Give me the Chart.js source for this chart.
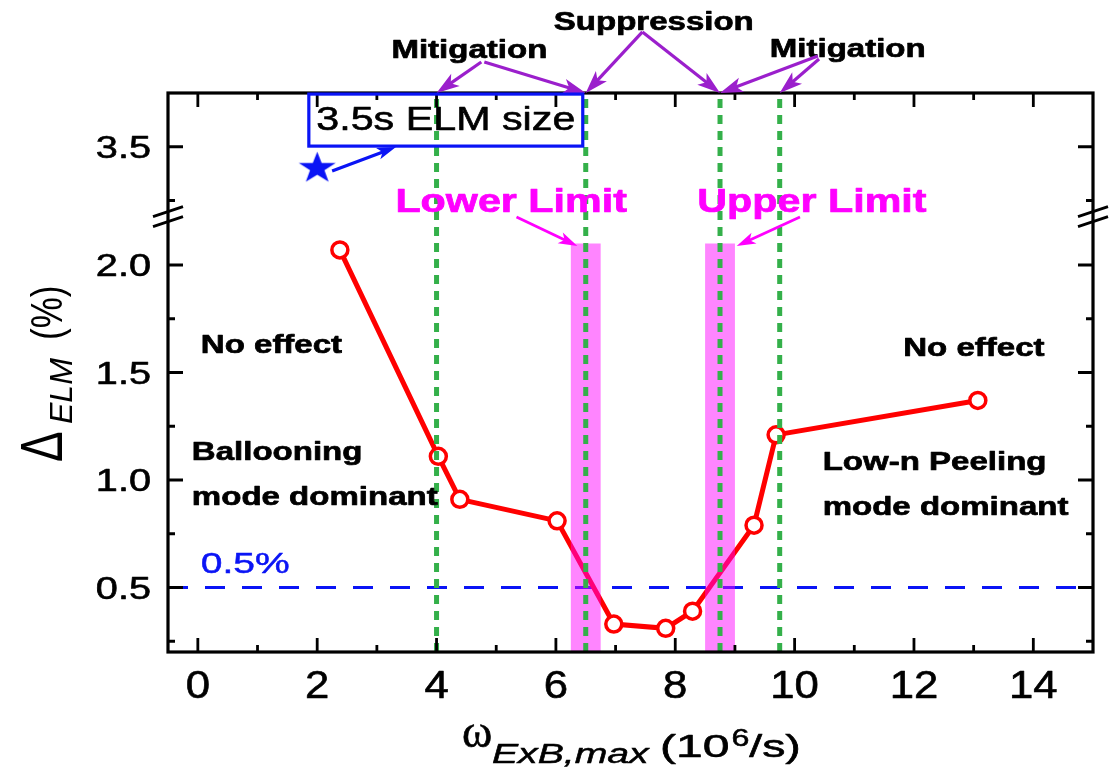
<!DOCTYPE html>
<html>
<head>
<meta charset="utf-8">
<script src="https://cdn.jsdelivr.net/npm/chart.js@4.4.0/dist/chart.umd.min.js"></script>
<style>
    html, body { margin: 0; padding: 0; background: #fff; }
    canvas { display: block; }
</style>
</head>
<body>
<canvas id="elmChart" width="1117" height="767"></canvas>
<script>
// ELM size vs. ExB shearing rate
const omegaValues = [2.38, 4.03, 4.39, 6.02, 6.97, 7.84, 8.29, 9.32, 9.69, 13.07];
const elmSizes    = [2.07, 1.11, 0.91, 0.81, 0.33, 0.31, 0.39, 0.79, 1.21, 1.37];

// 3.5s reference ELM size (star)
const refOmega = [2.0];
const refElm   = [3.40];

// green dashed boundaries: mitigation / suppression / suppression / mitigation
const boundaryLines = [4.0, 6.5, 8.75, 9.75];

// lower / upper limit bands
const limitBands = [[6.25, 6.75], [8.5, 9.0]];
const bandTop = 2.1;

const thresholdLevel = 0.5;

const xTicks      = [0, 2, 4, 6, 8, 10, 12, 14];
const xMinorTicks = [1, 3, 5, 7, 9, 11, 13];
const yTicks      = [0.5, 1.0, 1.5, 2.0, 3.5];
const yMinorTicks = [0.25, 0.75, 1.25, 1.75, 3.25];

// broken y axis: 0.2..2.2 below the break, 3.2..3.75 above it
const breakLow = 2.2;
const breakHigh = 3.2;
const breakGap = 0.05;
function toAxis(v) {
    return v > breakLow ? v - (breakHigh - breakLow) + breakGap : v;
}
const breakMid = breakLow + breakGap / 2;

// annotation placement (x in 10^6/s, y in axis units)
const purpleArrows = [
    [4.75, 2.944, 4.0, 2.8],
    [4.80, 2.944, 6.5, 2.8],
    [7.45, 3.084, 6.5, 2.8],
    [7.45, 3.084, 8.75, 2.8],
    [10.39, 2.972, 8.75, 2.8],
    [10.41, 2.958, 9.75, 2.8]
];
const limitArrows = [
    [5.34, 2.223, 6.36, 2.088],
    [10.09, 2.223, 9.03, 2.088]
];

function makeStar(r, sx, color) {
    const c = document.createElement('canvas');
    const w = Math.ceil(2 * r * sx) + 4;
    const h = Math.ceil(2 * r) + 4;
    c.width = w;
    c.height = h;
    const g = c.getContext('2d');
    g.translate(w / 2, h / 2);
    g.scale(sx, 1);
    g.beginPath();
    for (let i = 0; i < 10; i++) {
        const rad = i % 2 === 0 ? r : r * 0.39;
        const a = -Math.PI / 2 + i * Math.PI / 5;
        g.lineTo(Math.cos(a) * rad, Math.sin(a) * rad);
    }
    g.closePath();
    g.fillStyle = color;
    g.fill();
    return c;
}

function stretchText(ctx, str, x, y, font, color, align, sx, heavy) {
    ctx.save();
    ctx.font = font;
    ctx.fillStyle = color;
    ctx.strokeStyle = color;
    ctx.textBaseline = 'alphabetic';
    ctx.textAlign = 'left';
    const w = ctx.measureText(str).width * sx;
    let x0 = x;
    if (align === 'center') x0 = x - w / 2;
    else if (align === 'right') x0 = x - w;
    ctx.translate(x0, y);
    ctx.scale(sx, 1);
    ctx.fillText(str, 0, 0);
    if (heavy) {
        ctx.lineWidth = heavy;
        ctx.lineJoin = 'round';
        ctx.strokeText(str, 0, 0);
    }
    ctx.restore();
    return w;
}

function arrow(ctx, x1, y1, x2, y2, color, width, headLen, headW) {
    const ang = Math.atan2(y2 - y1, x2 - x1);
    ctx.save();
    ctx.strokeStyle = color;
    ctx.fillStyle = color;
    ctx.lineWidth = width;
    ctx.setLineDash([]);
    ctx.beginPath();
    ctx.moveTo(x1, y1);
    ctx.lineTo(x2 - Math.cos(ang) * headLen * 0.7, y2 - Math.sin(ang) * headLen * 0.7);
    ctx.stroke();
    ctx.translate(x2, y2);
    ctx.rotate(ang);
    ctx.beginPath();
    ctx.moveTo(0, 0);
    ctx.lineTo(-headLen, -headW / 2);
    ctx.lineTo(-headLen * 0.75, 0);
    ctx.lineTo(-headLen, headW / 2);
    ctx.closePath();
    ctx.fill();
    ctx.restore();
}

const BOLD = 'bold 26px "Liberation Sans", Arial, sans-serif';
const SANS = '"Liberation Sans", Arial, sans-serif';

const decorPlugin = {
    id: 'decor',
    afterDatasetDraw(chart, args) {
        // limit bands go over the red curve, under the green lines
        if (args.index !== 0) return;
        const ctx = chart.ctx;
        const xs = chart.scales.x, ys = chart.scales.y;
        ctx.save();
        ctx.fillStyle = 'rgba(255, 0, 255, 0.48)';
        limitBands.forEach(b => {
            const x1 = xs.getPixelForValue(b[0]);
            const x2 = xs.getPixelForValue(b[1]);
            const yt = ys.getPixelForValue(toAxis(bandTop));
            ctx.fillRect(x1, yt, x2 - x1, chart.chartArea.bottom - yt);
        });
        ctx.restore();
    },
    afterDraw(chart) {
        const ctx = chart.ctx;
        const ca = chart.chartArea;
        const xs = chart.scales.x, ys = chart.scales.y;
        const X = v => xs.getPixelForValue(v);
        const Y = v => ys.getPixelForValue(v);

        // frame
        ctx.save();
        ctx.strokeStyle = '#000';
        ctx.lineWidth = 3.2;
        ctx.strokeRect(ca.left, ca.top, ca.right - ca.left, ca.bottom - ca.top);

        // inward ticks, mirrored on all sides
        ctx.lineWidth = 2.8;
        ctx.beginPath();
        const xt = (list, len) => list.forEach(v => {
            const p = X(v);
            ctx.moveTo(p, ca.bottom); ctx.lineTo(p, ca.bottom - len);
            ctx.moveTo(p, ca.top); ctx.lineTo(p, ca.top + len);
        });
        const yt = (list, len) => list.forEach(v => {
            const p = Y(toAxis(v));
            ctx.moveTo(ca.left, p); ctx.lineTo(ca.left + len, p);
            ctx.moveTo(ca.right, p); ctx.lineTo(ca.right - len, p);
        });
        xt(xTicks, 14); xt(xMinorTicks, 7);
        yt(yTicks, 15); yt(yMinorTicks, 7);
        ctx.stroke();

        // axis break marks
        const yb = Y(breakMid);
        ctx.lineWidth = 2.8;
        [ca.left, ca.right].forEach(xa => {
            ctx.beginPath();
            ctx.moveTo(xa - 15, yb); ctx.lineTo(xa + 15, yb - 10);
            ctx.moveTo(xa - 15, yb + 10); ctx.lineTo(xa + 15, yb);
            ctx.stroke();
        });
        ctx.restore();

        // tick labels
        xTicks.forEach(v => stretchText(ctx, String(v), X(v), ca.bottom + 46,
            '38px ' + SANS, '#000', 'center', 1.15, 0.6));
        yTicks.forEach(v => stretchText(ctx, v.toFixed(1), ca.left - 17, Y(toAxis(v)) + 11,
            '32px ' + SANS, '#000', 'right', 1.24, 0.6));

        // x title: ω_ExB,max (10^6/s)
        let tx = 462;
        stretchText(ctx, '\u03c9', tx, 747, '46px "Liberation Serif", "Times New Roman", serif', '#000', 'left', 1.0, 0.6);
        tx = 492;
        stretchText(ctx, 'ExB,max', tx, 763, 'italic 27px ' + SANS, '#000', 'left', 1.45, 0.5);
        tx = 660;
        tx += stretchText(ctx, '(10', tx, 757, '32px ' + SANS, '#000', 'left', 1.5, 0.6);
        tx += 2;
        tx += stretchText(ctx, '6', tx, 746, '23px ' + SANS, '#000', 'left', 1.4, 0.5);
        stretchText(ctx, '/s)', tx, 757, '32px ' + SANS, '#000', 'left', 1.45, 0.6);

        // y title: Δ_ELM (%)
        ctx.save();
        ctx.translate(62, 462);
        ctx.rotate(-Math.PI / 2);
        ctx.fillStyle = '#000';
        ctx.textBaseline = 'alphabetic';
        ctx.save();
        ctx.scale(1, 1.27);
        ctx.font = '46px ' + SANS;
        ctx.fillText('\u0394', 0, 0);
        ctx.restore();
        ctx.font = 'italic 32px ' + SANS;
        ctx.fillText('ELM', 38, 10);
        ctx.save();
        ctx.scale(1, 1.27);
        ctx.font = '35px ' + SANS;
        ctx.fillText('(%)', 122, 0);
        ctx.restore();
        ctx.restore();

        // regime labels above the frame
        stretchText(ctx, 'Mitigation', X(4.55), Y(2.963), BOLD, '#000', 'center', 1.27, 0.7);
        stretchText(ctx, 'Suppression', X(7.64), Y(3.093), BOLD, '#000', 'center', 1.27, 0.7);
        stretchText(ctx, 'Mitigation', X(10.89), Y(2.967), BOLD, '#000', 'center', 1.27, 0.7);
        purpleArrows.forEach(a => arrow(ctx, X(a[0]), Y(a[1]), X(a[2]), Y(a[3]), '#9b1fcc', 3.2, 23, 15));

        // 3.5s ELM size box + arrow
        ctx.save();
        ctx.strokeStyle = '#0a14f5';
        ctx.lineWidth = 3.2;
        ctx.strokeRect(X(1.86), Y(2.795), X(6.45) - X(1.86), Y(2.553) - Y(2.795));
        ctx.restore();
        stretchText(ctx, '3.5s ELM size', X(4.155), Y(2.628), '33px ' + SANS, '#000', 'center', 1.25, 0.6);
        arrow(ctx, X(2.25), Y(2.437), X(3.32), Y(2.549), '#0a14f5', 3.2, 19, 12);

        // limit labels
        const MAG = 'bold 33px ' + SANS;
        stretchText(ctx, 'Lower Limit', X(5.25), Y(2.247), MAG, '#ff00ff', 'center', 1.25, 0.7);
        stretchText(ctx, 'Upper Limit', X(10.29), Y(2.247), MAG, '#ff00ff', 'center', 1.25, 0.7);
        limitArrows.forEach(a => arrow(ctx, X(a[0]), Y(a[1]), X(a[2]), Y(a[3]), '#ff00ff', 2.8, 19, 12));

        // in-plot notes
        stretchText(ctx, '0.5%', X(0.05), Y(0.567), '30px ' + SANS, '#0a14f5', 'left', 1.3, 0.5);
        stretchText(ctx, 'No effect', X(0.05), Y(1.591), BOLD, '#000', 'left', 1.27, 0.7);
        stretchText(ctx, 'Ballooning', X(-0.1), Y(1.093), BOLD, '#000', 'left', 1.27, 0.7);
        stretchText(ctx, 'mode dominant', X(-0.1), Y(0.884), BOLD, '#000', 'left', 1.27, 0.7);
        stretchText(ctx, 'No effect', X(11.82), Y(1.577), BOLD, '#000', 'left', 1.27, 0.7);
        stretchText(ctx, 'Low-n Peeling', X(10.47), Y(1.047), BOLD, '#000', 'left', 1.27, 0.7);
        stretchText(ctx, 'mode dominant', X(10.47), Y(0.837), BOLD, '#000', 'left', 1.27, 0.7);
    }
};

const xMin = -0.5, xMax = 15;
const yMin = 0.2, yMax = toAxis(3.75);

const datasets = [
    {
        label: 'ELM size',
        data: omegaValues.map((x, i) => ({ x: x, y: toAxis(elmSizes[i]) })),
        borderColor: '#ff0000',
        borderWidth: 5,
        pointRadius: 8,
        pointBorderWidth: 3.5,
        pointBackgroundColor: '#ffffff',
        pointBorderColor: '#ff0000',
        tension: 0,
        order: 4
    },
    {
        label: '0.5%',
        data: [{ x: xMin, y: thresholdLevel }, { x: xMax, y: thresholdLevel }],
        borderColor: '#0a14f5',
        borderWidth: 3.2,
        borderDash: [20, 17],
        pointRadius: 0,
        order: 5
    }
];

boundaryLines.forEach(b => {
    datasets.push({
        label: 'boundary ' + b,
        data: [{ x: b, y: yMin }, { x: b, y: yMax }],
        borderColor: '#34b04a',
        borderWidth: 5,
        borderDash: [9, 7],
        pointRadius: 0,
        order: 3
    });
});

datasets.push({
    label: '3.5s',
    data: refOmega.map((x, i) => ({ x: x, y: toAxis(refElm[i]) })),
    showLine: false,
    pointStyle: makeStar(16.6, 1.17, '#0a14f5'),
    pointRadius: 17,
    order: 1
});

document.addEventListener('DOMContentLoaded', function () {
    const ctx = document.getElementById('elmChart').getContext('2d');
    new Chart(ctx, {
        type: 'line',
        data: { datasets: datasets },
        options: {
            responsive: false,
            animation: false,
            devicePixelRatio: 1,
            layout: { padding: { left: 168, right: 24, top: 93, bottom: 115 } },
            plugins: { legend: { display: false }, tooltip: { enabled: false } },
            scales: {
                x: { type: 'linear', min: xMin, max: xMax, display: false },
                y: { type: 'linear', min: yMin, max: yMax, display: false }
            }
        },
        plugins: [decorPlugin]
    });
});
</script>
</body>
</html>
